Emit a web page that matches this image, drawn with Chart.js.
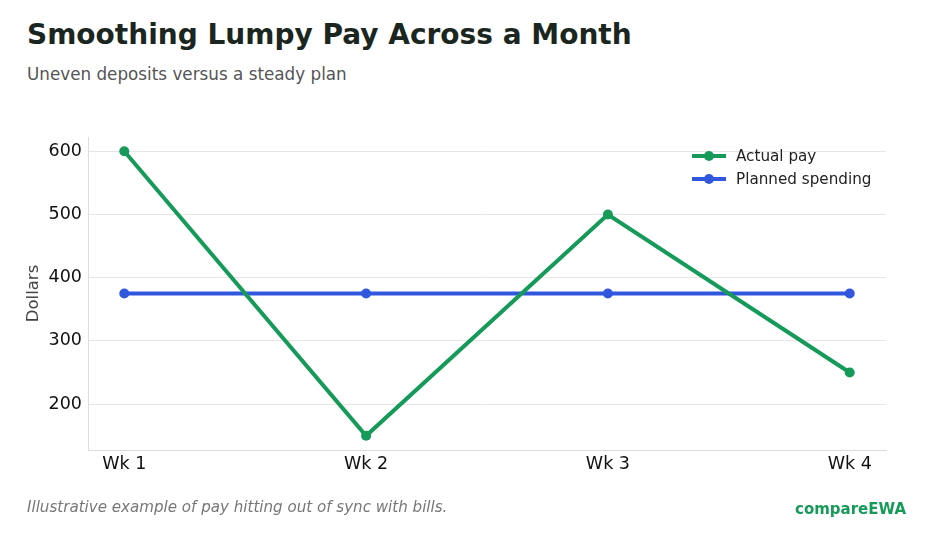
<!DOCTYPE html>
<html>
<head>
<meta charset="utf-8">
<script src="https://cdn.jsdelivr.net/npm/chart.js@4"></script>
<style>
  html, body { margin: 0; padding: 0; background: #fff; }
  body { width: 931px; height: 543px; position: relative; overflow: hidden; font-family: "DejaVu Sans", sans-serif; }
  #wrap { position: absolute; left: 0; top: 0; width: 931px; height: 543px; }
  .txt { position: absolute; white-space: nowrap; }
  #title { left: 27px; top: 18px; font-size: 28px; font-weight: bold; color: #1b2620; }
  #subtitle { left: 27px; top: 64px; font-size: 16.8px; color: #555; }
  #note { left: 27px; top: 498px; font-size: 15.1px; font-style: italic; color: #777; }
  #brand { right: 25px; top: 500px; font-size: 15px; font-weight: bold; color: #169a5a; }
  #legend { position: absolute; left: 692px; top: 144px; font-size: 15.2px; color: #222; }
  .row { height: 23px; display: flex; align-items: center; }
  .sw { width: 34px; height: 4px; position: relative; margin-right: 10px; }
  .sw i { position: absolute; left: 12px; top: -3px; width: 10px; height: 10px; border-radius: 50%; }
</style>
</head>
<body>
<div id="title" class="txt">Smoothing Lumpy Pay Across a Month</div>
<div id="subtitle" class="txt">Uneven deposits versus a steady plan</div>
<div id="wrap"><canvas id="myChart" width="931" height="543"></canvas></div>
<div id="legend">
  <div class="row"><span class="sw" style="background:#169a5a"><i style="background:#169a5a"></i></span>Actual pay</div>
  <div class="row"><span class="sw" style="background:#3057de"><i style="background:#3057de"></i></span>Planned spending</div>
</div>
<div id="note" class="txt">Illustrative example of pay hitting out of sync with bills.</div>
<div id="brand" class="txt">compareEWA</div>
<script>
// chart data
var weeks = ['Wk 1', 'Wk 2', 'Wk 3', 'Wk 4'];
var actualPay = [600, 150, 500, 250];
var plannedSpending = [375, 375, 375, 375];
var yTicks = [200, 300, 400, 500, 600];

var green = '#169a5a';
var blue = '#3057de';

function toPoints(values) {
  return values.map(function (v, i) { return { x: i, y: v }; });
}

var ctx = document.getElementById('myChart').getContext('2d');

var myChart = new Chart(ctx, {
  type: 'line',
  data: {
    datasets: [{
      label: 'Actual pay',
      data: toPoints(actualPay),
      borderColor: green,
      backgroundColor: green,
      borderWidth: 4,
      pointRadius: 5,
      pointBorderWidth: 0,
      tension: 0
    }, {
      label: 'Planned spending',
      data: toPoints(plannedSpending),
      borderColor: blue,
      backgroundColor: blue,
      borderWidth: 4,
      pointRadius: 5,
      pointBorderWidth: 0,
      tension: 0
    }]
  },
  options: {
    responsive: false,
    animation: false,
    layout: { padding: { top: 137, right: 45, bottom: 63, left: 0 } },
    plugins: {
      legend: { display: false },
      tooltip: { enabled: false }
    },
    scales: {
      x: {
        type: 'linear',
        min: -0.15,
        max: 3.15,
        afterBuildTicks: function (scale) {
          scale.ticks = weeks.map(function (w, i) { return { value: i }; });
        },
        afterFit: function (scale) { scale.height = 30; },
        ticks: {
          callback: function (v) { return weeks[v]; },
          color: '#111',
          font: { family: 'DejaVu Sans', size: 17.5 },
          padding: 4,
          maxRotation: 0
        },
        grid: { display: false, drawTicks: false },
        border: { display: true, color: '#dddddd', width: 1 }
      },
      y: {
        min: 127.5,
        max: 622.5,
        afterBuildTicks: function (scale) {
          scale.ticks = yTicks.map(function (v) { return { value: v }; });
        },
        afterFit: function (scale) { scale.width = 88; },
        ticks: {
          color: '#111',
          font: { family: 'DejaVu Sans', size: 17.5 },
          padding: 6
        },
        title: {
          display: true,
          text: 'Dollars',
          color: '#444',
          font: { family: 'DejaVu Sans', size: 16.5 },
          padding: { top: 24, bottom: 0 }
        },
        grid: { color: '#e6e6e6', lineWidth: 1, drawTicks: false },
        border: { display: true, color: '#dddddd', width: 1 }
      }
    }
  }
});
</script>
</body>
</html>
